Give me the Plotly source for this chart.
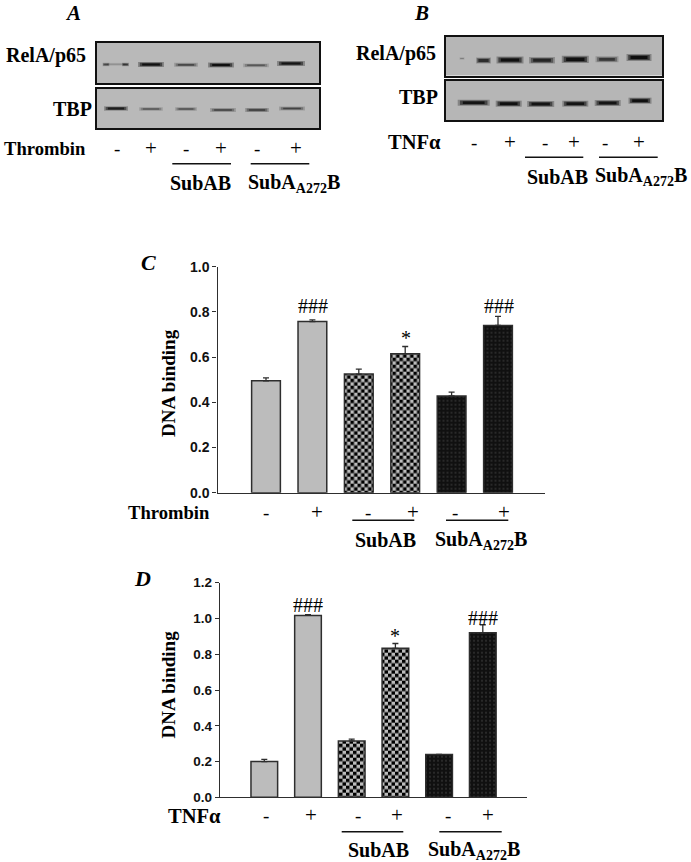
import plotly.graph_objects as go

W, H = 691, 862
SERIF = "Liberation Serif"
SANS = "Liberation Sans"
DARK = "#2e2e2e"
GRAY = "#bcbcbc"

# ---- chart data ----
C_VALUES = [0.495, 0.757, 0.525, 0.615, 0.428, 0.740]
C_ERRORS = [0.013, 0.008, 0.022, 0.032, 0.017, 0.040]
D_VALUES = [0.200, 1.017, 0.315, 0.833, 0.240, 0.920]
D_ERRORS = [0.012, 0.005, 0.010, 0.027, 0.000, 0.045]
C_TICKS = [0.0, 0.2, 0.4, 0.6, 0.8, 1.0]
D_TICKS = [0.0, 0.2, 0.4, 0.6, 0.8, 1.0, 1.2]
SIGNS = ["-", "+", "-", "+", "-", "+"]

# band strength on each blot, one per lane (0 = none, 1 = darkest)
A_P65 = [0.14, 1.00, 0.50, 1.00, 0.42, 0.95]
A_P65_SPOTS = [0.45, 0.60]
A_TBP = [0.85, 0.42, 0.45, 0.55, 0.60, 0.55]
B_P65 = [0.70, 1.00, 0.78, 1.00, 0.62, 1.00]
B_P65_SPOTS = [0.22]
B_TBP = [0.95, 1.00, 0.95, 0.95, 0.95, 1.00]


def px(x):
    return x / W


def py(y):
    return 1 - y / H


fig = go.Figure()
layout = {}
shapes = []
notes = []


def text(x, y, s, size, bold=True, italic=False, anchor="center", family=SERIF, angle=0, color="#000"):
    t = s
    if bold:
        t = f"<b>{t}</b>"
    if italic:
        t = f"<i>{t}</i>"
    notes.append(dict(x=px(x), y=py(y), xref="paper", yref="paper", text=t, showarrow=False,
                      xanchor=anchor, yanchor="middle", textangle=angle,
                      font=dict(family=family, size=size, color=color)))


def signs(xs, y):
    for s, x in zip(SIGNS, xs):
        text(x, y, s, 21 if s == "+" else 19, bold=False)


def rule(x0, x1, y, width=1.6):
    shapes.append(dict(type="line", xref="paper", yref="paper", x0=px(x0), x1=px(x1), y0=py(y), y1=py(y),
                       line=dict(color="#111", width=width)))


def axes(n, box, xr, yr, **kw):
    xn, yn = ("xaxis", "yaxis") if n == 1 else (f"xaxis{n}", f"yaxis{n}")
    xa, ya = ("x", "y") if n == 1 else (f"x{n}", f"y{n}")
    x0, x1, y0, y1 = box
    layout[xn] = dict(domain=[px(x0), px(x1)], range=xr, anchor=ya, **kw.get("x", {}))
    layout[yn] = dict(domain=[py(y1), py(y0)], range=yr, anchor=xa, **kw.get("y", {}))
    return xa, ya


def band(xa, ya, s, c, r, half, thick):
    for frac, lw, alpha in [(1.0, 3.6, 0.28), (0.86, 2.6, 0.5), (0.68, 1.6, 0.75)]:
        w = lw * (0.7 + 0.55 * s) * thick
        fig.add_trace(go.Scatter(x=[c - half * frac, c + half * frac], y=[r, r], mode="lines",
                                 xaxis=xa, yaxis=ya, hoverinfo="skip", showlegend=False,
                                 line=dict(color=f"rgba(0,0,0,{alpha * s:.3f})", width=w)))


def blot(n, box, strengths, centres, halves, rows, bg, thick):
    frame = dict(showline=True, mirror=True, linecolor="#111", linewidth=2, showticklabels=False,
                 ticks="", showgrid=False, zeroline=False)
    xa, ya = axes(n, box, [box[0], box[1]], [box[3], box[2]], x=frame, y=frame)
    shapes.append(dict(type="rect", xref=f"{xa} domain", yref=f"{ya} domain", x0=0, x1=1, y0=0, y1=1,
                       layer="below", fillcolor=bg, line=dict(width=0)))
    for s, c, r, h in zip(strengths, centres, rows, halves):
        band(xa, ya, s, c, r, h, thick)
    return xa, ya


# ---- blots ----
xa, ya = blot(2, (97, 319, 42.5, 83), A_P65, [115, 151, 186, 221, 256, 291], [12, 13, 12, 13, 13, 14],
              [64.3, 64.5, 64.8, 65, 65.3, 63.5], "#b9b9b9", 1.1)
for s, c in zip(A_P65_SPOTS, [106, 125.5]):
    band(xa, ya, s, c, 64.5, 3.5, 1.0)
blot(3, (97, 319, 88.5, 128), A_TBP, [116, 151, 186, 223, 257, 292], [12, 12, 11, 13, 12, 13],
     [108.5, 109, 109, 110, 110, 108.5], "#b9b9b9", 1.05)
xa, ya = blot(4, (446, 662, 37, 75.5), B_P65, [483.5, 510, 542, 575.3, 607, 639], [7.5, 13.5, 13, 13.5, 11.5, 12.5],
              [60.5, 60, 60.3, 59.3, 59.3, 57.5], "#b6b6b6", 1.6)
for s, c in zip(B_P65_SPOTS, [462]):
    band(xa, ya, s, c, 58.5, 2.5, 0.8)
blot(5, (446, 662, 81, 120), B_TBP, [473.7, 508.7, 540.7, 575.3, 607.7, 640], [16, 13, 13.5, 13, 13, 11.5],
     [102.7, 103.7, 104, 103.7, 103, 100.7], "#b6b6b6", 1.35)


# ---- bar panels ----
GROUPS = [
    (0, 2, dict(color=GRAY)),
    (2, 4, dict(color=GRAY, pattern=dict(shape="+", size=7, solidity=0.5, fgcolor="#000", fillmode="overlay"))),
    (4, 6, dict(color="#101010", pattern=dict(shape=".", size=4, solidity=0.09, fgcolor="#9a9a9a", fillmode="overlay"))),
]


def bars(n, box, values, errors, ticks, ymax, centre0, spacing, gap, tickfont):
    axis = dict(showgrid=False, zeroline=False, showline=True, linecolor=DARK, linewidth=1.4)
    lo = (box[0] - centre0) / spacing
    hi = (box[1] - centre0) / spacing
    xa, ya = axes(n, box, [lo, hi], [0, ymax],
                  x=dict(showticklabels=False, ticks="", **axis),
                  y=dict(tickvals=ticks, ticktext=[f"{t:.1f}" for t in ticks], ticks="outside", ticklen=4,
                         tickwidth=1.4, tickcolor=DARK,
                         tickfont=dict(family=SANS, size=tickfont, color="#111", weight=700), **axis))
    for a, b, marker in GROUPS:
        fig.add_trace(go.Bar(
            x=list(range(a, b)), y=values[a:b], xaxis=xa, yaxis=ya, width=1 - gap, showlegend=False,
            error_y=dict(type="data", symmetric=False, array=errors[a:b], arrayminus=[0] * (b - a),
                         color=DARK, thickness=1.3, width=3),
            marker=dict(line=dict(color=DARK, width=1.5), **marker)))


bars(1, (217.5, 545, 266.7, 492.7), C_VALUES, C_ERRORS, C_TICKS, 1.0, 266, 46.4, 0.38, 14)
bars(6, (220, 527, 582.7, 797.3), D_VALUES, D_ERRORS, D_TICKS, 1.2, 264.3, 43.7, 0.39, 13.5)

# ---- panel letters ----
text(72.5, 13, "A", 21, italic=True)
text(421, 13, "B", 21, italic=True)
text(148, 262, "C", 22, italic=True)
text(142, 578, "D", 22, italic=True)

# ---- blot labels ----
text(46, 56, "RelA/p65", 20)
text(72, 109, "TBP", 20)
text(45, 148, "Thrombin", 18.6)
text(396, 54, "RelA/p65", 20)
text(418, 97, "TBP", 20)
text(414, 142, "TNF\u03b1", 20.5)

signs([116.5, 151, 186, 221, 257, 296], 148)
signs([474.5, 510, 545, 574, 605, 639], 142)

rule(172.3, 231, 163.7)
rule(250.7, 309.3, 163.7)
text(201, 183, "SubAB", 20)
text(294, 183, "SubA<sub>A272</sub>B", 20)
rule(525, 583.3, 157.3)
rule(599, 657.7, 157.3)
text(557, 177, "SubAB", 20)
text(641, 177, "SubA<sub>A272</sub>B", 20)

# ---- panel C labels ----
text(168, 383, "DNA binding", 19, angle=-90)
text(211.5, 512.7, "Thrombin", 18.6, anchor="right")
signs([266, 316.7, 367.7, 413.3, 455, 504], 512)
rule(352.3, 414.3, 520.3)
rule(446, 508.3, 520.3)
text(385, 540, "SubAB", 20)
text(480.5, 540, "SubA<sub>A272</sub>B", 20)
text(312.5, 306, "###", 20, bold=False)
text(499, 306, "###", 20, bold=False)
text(405.5, 338, "*", 20, bold=False)

# ---- panel D labels ----
text(167.5, 685, "DNA binding", 19, angle=-90)
text(222.5, 816, "TNF\u03b1", 20.5, anchor="right")
signs([266, 311, 357.7, 397.3, 448.3, 488.3], 815)
rule(341.7, 403.3, 831.7)
rule(439.3, 501.7, 831.7)
text(378.3, 850, "SubAB", 20)
text(474.5, 850, "SubA<sub>A272</sub>B", 20)
text(308.3, 605, "###", 20, bold=False)
text(483.3, 617.5, "###", 20, bold=False)
text(395, 636, "*", 20, bold=False)

fig.update_layout(width=W, height=H, margin=dict(l=0, r=0, t=0, b=0, autoexpand=False), autosize=False,
                  barmode="overlay", paper_bgcolor="white", plot_bgcolor="white", showlegend=False,
                  shapes=shapes, annotations=notes, **layout)

# Plotly has no checkerboard fill: turn its "+" tile into a checker, and drop the page margin.
POST = """
document.body.style.margin = '0';
function checker() {
  document.querySelectorAll('pattern').forEach(function (p) {
    if (p.querySelector('path')) {
      p.setAttribute('width', '7');
      p.setAttribute('height', '7');
      p.innerHTML = '<rect width="7" height="7" fill="#bcbcbc"/>' +
                    '<rect width="3.5" height="3.5" fill="#000"/>' +
                    '<rect x="3.5" y="3.5" width="3.5" height="3.5" fill="#000"/>';
    }
  });
}
checker();
[30, 100, 300, 800].forEach(function (t) { setTimeout(checker, t); });
"""
fig.write_html("out.html", post_script=POST, config=dict(displayModeBar=False))
